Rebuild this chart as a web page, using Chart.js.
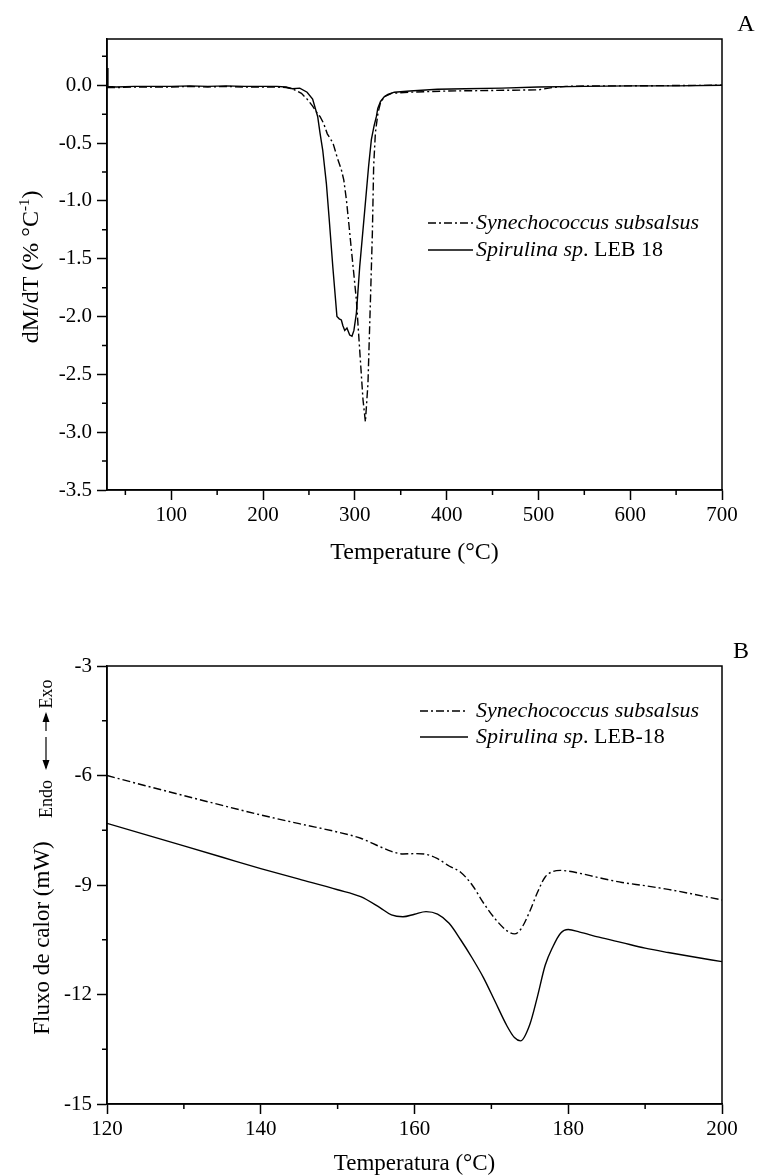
<!DOCTYPE html>
<html>
<head>
<meta charset="utf-8">
<script src="https://cdn.jsdelivr.net/npm/chart.js@4.4.1/dist/chart.umd.min.js"></script>
<style>
  html, body { margin: 0; padding: 0; background: #fff; }
  #dtg { position: absolute; left: 0; top: 0; }
  #dsc { position: absolute; left: 0; top: 590px; }
</style>
</head>
<body>
<canvas id="dtg" width="759" height="590"></canvas>
<canvas id="dsc" width="759" height="586"></canvas>
<script>
/* Painel A: DTG */
const dtgTempSpi = [30, 31, 40, 60, 80, 100, 120, 140, 160, 180, 200, 215, 225, 232, 240, 248, 254, 259.5, 262, 265, 269, 272, 276, 280.5, 283, 285.3, 287, 289, 291.4, 294.4, 296.9, 299, 301.7, 305.3, 310.8, 315, 318, 321, 323.5, 325, 328, 332, 336, 343, 360, 390, 420, 460, 500, 550, 600, 650, 700];
const dtgSpi = [0.15, -0.01, -0.015, -0.01, -0.01, -0.01, -0.005, -0.01, -0.005, -0.01, -0.01, -0.01, -0.015, -0.03, -0.025, -0.06, -0.12, -0.27, -0.41, -0.56, -0.85, -1.15, -1.57, -2.0, -2.02, -2.03, -2.08, -2.12, -2.1, -2.16, -2.17, -2.12, -1.97, -1.57, -1.08, -0.7, -0.47, -0.35, -0.27, -0.2, -0.14, -0.1, -0.08, -0.06, -0.05, -0.035, -0.03, -0.025, -0.015, -0.01, -0.005, -0.005, 0.0];
const dtgTempSyn = [30, 40, 60, 80, 100, 120, 140, 160, 180, 200, 215, 225, 232, 241.8, 248, 254, 259.8, 262, 266, 270, 276.2, 281, 285.3, 288, 290.8, 293.5, 296.2, 299, 301.7, 305.3, 308.9, 311.5, 314.3, 317, 319.1, 320.5, 322.4, 325.2, 328, 332, 340, 360, 400, 450, 500, 515, 530, 560, 600, 700];
const dtgSyn = [-0.02, -0.02, -0.015, -0.015, -0.015, -0.01, -0.015, -0.01, -0.015, -0.015, -0.015, -0.02, -0.03, -0.07, -0.12, -0.18, -0.25, -0.27, -0.33, -0.42, -0.5, -0.63, -0.73, -0.82, -0.99, -1.2, -1.42, -1.64, -1.86, -2.29, -2.72, -2.91, -2.58, -1.86, -1.28, -0.7, -0.41, -0.24, -0.15, -0.1, -0.07, -0.06, -0.05, -0.045, -0.04, -0.02, -0.01, -0.005, -0.005, 0.0];
const dtgTicksX = [100, 200, 300, 400, 500, 600, 700];
const dtgMinorX = [50, 150, 250, 350, 450, 550, 650];
const dtgTicksY = [0, -0.5, -1, -1.5, -2, -2.5, -3, -3.5];
const dtgMinorY = [0.25, -0.25, -0.75, -1.25, -1.75, -2.25, -2.75, -3.25];

/* Painel B: DSC */
const dscTemp = [120, 125, 130, 135, 140, 145, 150, 153, 155.5, 157, 158.5, 160, 161.5, 163, 164.5, 166, 167.5, 169, 170.5, 172, 173, 173.8, 175, 176, 177, 178, 179, 180, 181.5, 184, 187, 190, 193, 196, 200];
const dscSyn = [-6.0, -6.28, -6.55, -6.82, -7.08, -7.32, -7.55, -7.72, -7.95, -8.08, -8.15, -8.14, -8.16, -8.28, -8.48, -8.65, -9.0, -9.5, -9.93, -10.25, -10.34, -10.22, -9.72, -9.2, -8.78, -8.63, -8.6, -8.62, -8.68, -8.8, -8.93, -9.02, -9.12, -9.24, -9.41];
const dscSpi = [-7.31, -7.62, -7.93, -8.24, -8.55, -8.84, -9.13, -9.32, -9.62, -9.82, -9.87, -9.8, -9.73, -9.8, -10.05, -10.5, -11.0, -11.55, -12.2, -12.85, -13.18, -13.27, -12.82, -12.05, -11.2, -10.69, -10.32, -10.22, -10.29, -10.43, -10.58, -10.73, -10.85, -10.96, -11.1];
const dscTicksX = [120, 140, 160, 180, 200];
const dscMinorX = [130, 150, 170, 190];
const dscTicksY = [-3, -6, -9, -12, -15];
const dscMinorY = [-4.5, -7.5, -10.5, -13.5];

const SERIF = '"Liberation Serif", "Times New Roman", serif';
const DASHDOT = [8, 3, 2, 3];

const pts = (xs, ys) => xs.map((x, i) => ({ x, y: ys[i] }));

// moldura, marcas menores, legenda e textos extra
const decor = {
  id: 'decor',
  afterDraw(chart, args, o) {
    const { ctx, chartArea: a, scales: { x, y } } = chart;
    ctx.save();
    ctx.strokeStyle = '#000';
    ctx.lineWidth = 1.5;
    ctx.strokeRect(a.left, a.top, a.right - a.left, a.bottom - a.top);
    ctx.beginPath();
    o.minorX.forEach((v) => { const px = x.getPixelForValue(v); ctx.moveTo(px, a.bottom); ctx.lineTo(px, a.bottom + 5); });
    o.minorY.forEach((v) => { const py = y.getPixelForValue(v); ctx.moveTo(a.left, py); ctx.lineTo(a.left - 5, py); });
    ctx.stroke();

    // legenda
    const lg = o.legend;
    ctx.fillStyle = '#000';
    ctx.textBaseline = 'middle';
    ctx.textAlign = 'left';
    chart.data.datasets.forEach((ds, i) => {
      const yy = lg.y + i * lg.gap;
      ctx.beginPath();
      ctx.lineWidth = 1.3;
      ctx.setLineDash(ds.borderDash || []);
      ctx.moveTo(lg.x0, yy); ctx.lineTo(lg.x1, yy);
      ctx.stroke();
      ctx.setLineDash([]);
      let tx = lg.tx;
      o.labels[i].forEach((p) => {
        ctx.font = (p.i ? 'italic ' : '') + lg.size + 'px ' + SERIF;
        ctx.fillText(p.t, tx, yy);
        tx += ctx.measureText(p.t).width;
      });
    });

    // letra do painel
    ctx.font = o.letter.size + 'px ' + SERIF;
    ctx.textAlign = 'center';
    ctx.fillText(o.letter.t, o.letter.x, o.letter.y);

    // títulos verticais
    o.vtitles.forEach((t) => {
      ctx.save();
      ctx.translate(t.x, t.y);
      ctx.rotate(-Math.PI / 2);
      ctx.textBaseline = 'alphabetic';
      ctx.textAlign = 'left';
      let w = 0;
      t.parts.forEach((p) => { ctx.font = (p.s || t.size) + 'px ' + SERIF; w += ctx.measureText(p.t).width; });
      let tx = -w / 2;
      t.parts.forEach((p) => {
        ctx.font = (p.s || t.size) + 'px ' + SERIF;
        ctx.fillText(p.t, tx, p.up ? -p.up : 0);
        tx += ctx.measureText(p.t).width;
      });
      ctx.restore();
    });

    if (o.arrows) {
      ctx.lineWidth = 1.2;
      o.arrows.forEach((ar) => {
        ctx.beginPath(); ctx.moveTo(ar.x, ar.y0); ctx.lineTo(ar.x, ar.y1); ctx.stroke();
        const d = ar.y1 > ar.y0 ? 1 : -1;
        ctx.beginPath();
        ctx.moveTo(ar.x, ar.y1 + d * 2);
        ctx.lineTo(ar.x - 3.5, ar.y1 - d * 8);
        ctx.lineTo(ar.x + 3.5, ar.y1 - d * 8);
        ctx.closePath(); ctx.fill();
      });
    }
    ctx.restore();
  },
};

function axisX(min, max, ticks, title, tsize, tpad, height) {
  return {
    type: 'linear', min, max,
    afterBuildTicks: (s) => { s.ticks = ticks.map((v) => ({ value: v })); },
    afterFit: (s) => { s.height = height; },
    border: { color: '#000', width: 1.5 },
    grid: { drawOnChartArea: false, drawTicks: true, tickLength: 10, tickColor: '#000', tickWidth: 1.5 },
    ticks: { color: '#000', font: { family: SERIF, size: 21 }, padding: 3, maxRotation: 0 },
    title: { display: true, text: title, color: '#000', font: { family: SERIF, size: tsize, lineHeight: 1 }, padding: { top: 0, bottom: tpad } },
  };
}

function axisY(min, max, ticks, fmt) {
  return {
    type: 'linear', min, max,
    afterBuildTicks: (s) => { s.ticks = ticks.map((v) => ({ value: v })); },
    afterFit: (s) => { s.width = 107; },
    border: { color: '#000', width: 1.5 },
    grid: { drawOnChartArea: false, drawTicks: true, tickLength: 10, tickColor: '#000', tickWidth: 1.5 },
    ticks: { color: '#000', font: { family: SERIF, size: 21 }, padding: 5, callback: fmt },
  };
}

const lineDs = (label, data, dash, tension) => ({
  label, data, borderColor: '#000', borderWidth: 1.4, borderDash: dash,
  pointRadius: 0, tension, cubicInterpolationMode: tension ? 'monotone' : 'default', fill: false,
});

new Chart(document.getElementById('dtg'), {
  type: 'line',
  data: { datasets: [
    lineDs('Synechococcus subsalsus', pts(dtgTempSyn, dtgSyn), DASHDOT, 0),
    lineDs('Spirulina sp. LEB 18', pts(dtgTempSpi, dtgSpi), [], 0),
  ] },
  options: {
    responsive: false, animation: false,
    layout: { padding: { top: 39, right: 37, left: 0, bottom: 0 } },
    plugins: {
      legend: { display: false }, tooltip: { enabled: false },
      decor: {
        minorX: dtgMinorX, minorY: dtgMinorY,
        labels: [[{ t: 'Synechococcus subsalsus', i: true }], [{ t: 'Spirulina sp', i: true }, { t: '. LEB 18' }]],
        legend: { x0: 428, x1: 473, tx: 476, y: 223, gap: 27, size: 22 },
        letter: { t: 'A', x: 746, y: 25, size: 24 },
        vtitles: [{ x: 38, y: 267, size: 24, parts: [{ t: 'dM/dT (% °C' }, { t: '-1', s: 15, up: 9 }, { t: ')' }] }],
      },
    },
    scales: {
      x: axisX(30, 700, dtgTicksX, 'Temperature (°C)', 24, 25, 100),
      y: axisY(-3.5, 0.4, dtgTicksY, (v) => v.toFixed(1)),
    },
  },
  plugins: [decor],
});

new Chart(document.getElementById('dsc'), {
  type: 'line',
  data: { datasets: [
    lineDs('Synechococcus subsalsus', pts(dscTemp, dscSyn), DASHDOT, 0.4),
    lineDs('Spirulina sp. LEB-18', pts(dscTemp, dscSpi), [], 0.4),
  ] },
  options: {
    responsive: false, animation: false,
    layout: { padding: { top: 76, right: 37, left: 0, bottom: 0 } },
    plugins: {
      legend: { display: false }, tooltip: { enabled: false },
      decor: {
        minorX: dscMinorX, minorY: dscMinorY,
        labels: [[{ t: 'Synechococcus subsalsus', i: true }], [{ t: 'Spirulina sp', i: true }, { t: '. LEB-18' }]],
        legend: { x0: 420, x1: 468, tx: 476, y: 121, gap: 26, size: 22 },
        letter: { t: 'B', x: 741, y: 62, size: 24 },
        vtitles: [
          { x: 49, y: 348, size: 23, parts: [{ t: 'Fluxo de calor (mW)' }] },
          { x: 52, y: 209, size: 18, parts: [{ t: 'Endo' }] },
          { x: 52, y: 104, size: 18, parts: [{ t: 'Exo' }] },
        ],
        arrows: [{ x: 46, y0: 147, y1: 178 }, { x: 46, y0: 141, y1: 124 }],
      },
    },
    scales: {
      x: axisX(120, 200, dscTicksX, 'Temperatura (°C)', 23, 1, 72),
      y: axisY(-15, -3, dscTicksY, (v) => String(v)),
    },
  },
  plugins: [decor],
});
</script>
</body>
</html>
